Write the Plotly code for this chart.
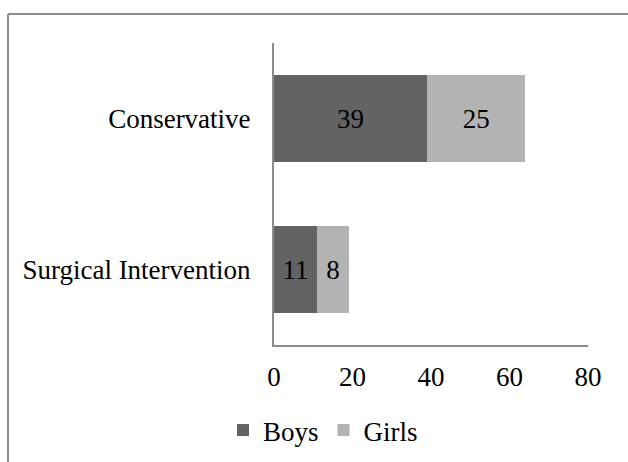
import plotly.graph_objects as go

# Treatment categories and counts per group
categories = ["Conservative", "Surgical Intervention"]
boys = [39, 11]
girls = [25, 8]
x_ticks = [0, 20, 40, 60, 80]

FONT = "Times New Roman, Liberation Serif, serif"
W, H = 628, 462
ML, MR, MT, MB = 274, 40, 43, 117

fig = go.Figure()
fig.add_trace(go.Bar(
    y=categories, x=boys, name="Boys", orientation="h",
    marker=dict(color="#636363", line=dict(width=0)),
    text=boys, textposition="inside", insidetextanchor="middle",
    textfont=dict(family=FONT, size=27, color="black"),
    constraintext="none", width=0.57,
))
fig.add_trace(go.Bar(
    y=categories, x=girls, name="Girls", orientation="h",
    marker=dict(color="#b3b3b3", line=dict(width=0)),
    text=girls, textposition="inside", insidetextanchor="middle",
    textfont=dict(family=FONT, size=27, color="black"),
    constraintext="none", width=0.57,
))

# Frame lines around the chart area (top and left edges)
pw = W - ML - MR
ph = H - MT - MB
def px_x(v):
    return (v - ML) / pw
def px_y(v):
    return (H - MB - v) / ph

shapes = [
    dict(type="line", xref="paper", yref="paper",
         x0=px_x(8), x1=px_x(W + 2), y0=px_y(14), y1=px_y(14),
         line=dict(color="#8c8c8c", width=2)),
    dict(type="line", xref="paper", yref="paper",
         x0=px_x(8), x1=px_x(8), y0=px_y(14), y1=px_y(H + 2),
         line=dict(color="#8c8c8c", width=2)),
]

fig.update_layout(
    width=W, height=H,
    margin=dict(l=ML, r=MR, t=MT, b=MB, pad=0, autoexpand=False),
    barmode="stack", bargap=0.43,
    paper_bgcolor="white", plot_bgcolor="white",
    font=dict(family=FONT, size=27, color="black"),
    showlegend=True,
    legend=dict(orientation="h", x=px_x(223), xanchor="left",
                y=px_y(406), yanchor="top",
                traceorder="normal", itemwidth=30,
                font=dict(family=FONT, size=27, color="black"),
                bgcolor="rgba(0,0,0,0)"),
    xaxis=dict(range=[0, 80], tickvals=x_ticks, showgrid=False, zeroline=False,
               showline=True, linecolor="#8c8c8c", linewidth=2,
               ticks="", ticklabelstandoff=7, fixedrange=True),
    yaxis=dict(autorange="reversed", showgrid=False, zeroline=False,
               showline=True, linecolor="#8c8c8c", linewidth=2,
               ticks="", ticklabelstandoff=16, fixedrange=True),
    shapes=shapes,
    hovermode=False,
)

fig.write_html("out.html")
